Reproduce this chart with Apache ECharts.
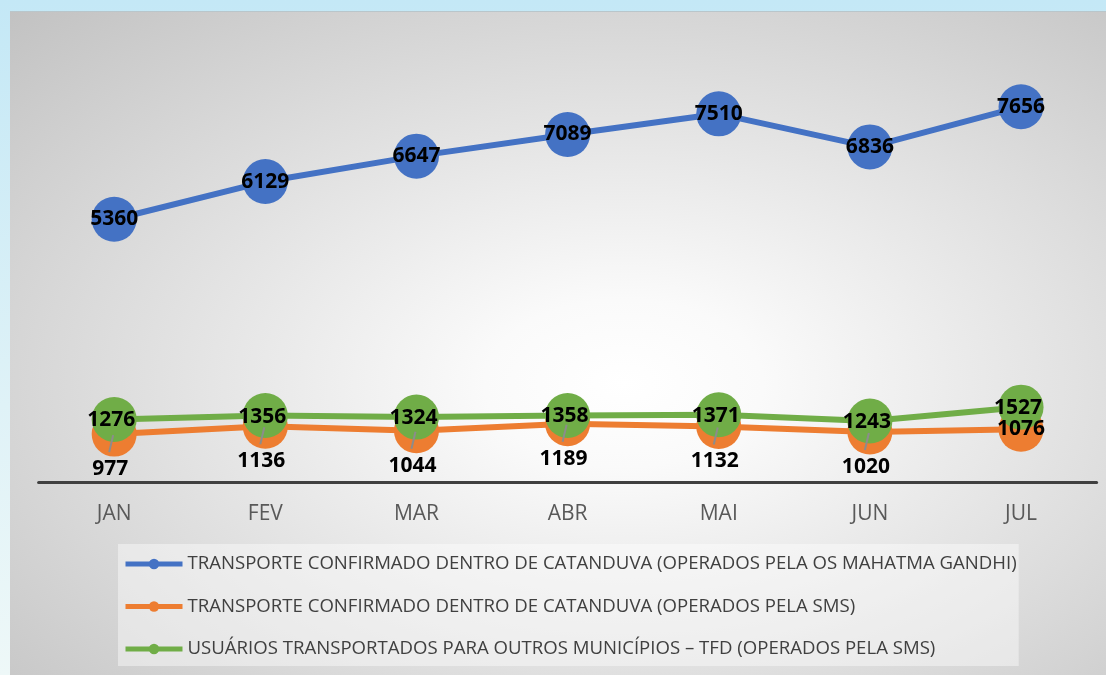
<!DOCTYPE html>
<html>
<head>
<meta charset="utf-8">
<script src="https://cdn.jsdelivr.net/npm/echarts@6/dist/echarts.min.js"></script>
<style>
  html, body { margin: 0; padding: 0; }
  body {
    width: 1106px; height: 675px; overflow: hidden; position: relative;
    background: linear-gradient(to bottom, #c4e8f6 0%, #dff2f7 60%, #eef8f8 100%);
  }
  #main {
    position: absolute; left: 10px; top: 11px; width: 1096px; height: 664px;
    border-top: 1px solid #b9c6cb;
    box-sizing: border-box;
    background: radial-gradient(ellipse farthest-corner at 56% 56%, #ffffff 0%, #fafafa 16%, #e2e2e2 52%, #c2c2c2 100%);
  }
</style>
</head>
<body>
<div id="main"></div>
<script>
  // dados
  var meses = ['JAN', 'FEV', 'MAR', 'ABR', 'MAI', 'JUN', 'JUL']
  var nomeGandhi = 'TRANSPORTE CONFIRMADO DENTRO DE CATANDUVA (OPERADOS PELA OS MAHATMA GANDHI)'
  var nomeSms = 'TRANSPORTE CONFIRMADO DENTRO DE CATANDUVA (OPERADOS PELA SMS)'
  var nomeTfd = 'USUÁRIOS TRANSPORTADOS PARA OUTROS MUNICÍPIOS – TFD (OPERADOS PELA SMS)'
  var gandhi = [5360, 6129, 6647, 7089, 7510, 6836, 7656]
  var sms = [977, 1136, 1044, 1189, 1132, 1020, 1076]
  var tfd = [1276, 1356, 1324, 1358, 1371, 1243, 1527]

  var fonte = '"Open Sans", "Noto Sans", sans-serif'
  var azul = '#4472C4', laranja = '#ED7D31', verde = '#70AD47'

  function rotulo (offset) {
    return {
      show: true,
      position: 'inside',
      offset: offset,
      color: '#000',
      fontSize: 21,
      fontWeight: 'bold',
      fontFamily: fonte
    }
  }

  function serie (nome, valores, cor, offset) {
    return {
      name: nome,
      type: 'line',
      data: valores,
      symbol: 'circle',
      symbolSize: 45,
      itemStyle: { color: cor },
      lineStyle: { color: cor, width: 6 },
      label: rotulo(offset),
      emphasis: { disabled: true }
    }
  }

  // laranja: rótulos abaixo, exceto o último (centralizado)
  var smsDados = sms.map(function (v, i) {
    if (i === sms.length - 1) return { value: v, label: { offset: [0, 0] } }
    return v
  })
  var linhasGuia = sms.slice(0, sms.length - 1).map(function (v, i) { return [i, v] })

  var myChart = echarts.init(document.getElementById('main'), null, { renderer: 'canvas' })
  myChart.setOption({
    animation: false,
    backgroundColor: 'transparent',
    grid: { left: 28.6, right: 9.4, top: 28.8, bottom: 193 },
    xAxis: {
      type: 'category',
      data: meses,
      boundaryGap: true,
      axisLine: { lineStyle: { color: '#404040', width: 3 } },
      axisTick: { show: false },
      splitLine: { show: false },
      axisLabel: { color: '#595959', fontSize: 21, fontFamily: fonte, margin: 22 }
    },
    yAxis: { type: 'value', min: 0, max: 9000, show: false },
    legend: {
      orient: 'vertical',
      left: 108,
      top: 532,
      data: [nomeGandhi, nomeSms, nomeTfd],
      itemWidth: 57,
      itemHeight: 13,
      itemGap: 20.5,
      padding: [9, 2, 6, 5],
      backgroundColor: 'rgba(255,255,255,0.42)',
      lineStyle: { width: 5 },
      textStyle: { color: '#404040', fontSize: 18.6, fontFamily: fonte, lineHeight: 22 },
      selectedMode: false
    },
    series: [
      serie(nomeGandhi, gandhi, azul, [0, 0]),
      serie(nomeSms, smsDados, laranja, [-4, 35]),
      serie(nomeTfd, tfd, verde, [-3, 1]),
      {
        // linhas de chamada dos rótulos laranja
        type: 'custom',
        z: 5,
        silent: true,
        data: linhasGuia,
        renderItem: function (params, api) {
          var p = api.coord([api.value(0), api.value(1)])
          return {
            type: 'line',
            shape: { x1: p[0] - 5, y1: p[1] + 18, x2: p[0] - 1, y2: p[1] + 1 },
            style: { stroke: '#8c8c8c', lineWidth: 2 }
          }
        }
      }
    ]
  })
</script>
</body>
</html>
